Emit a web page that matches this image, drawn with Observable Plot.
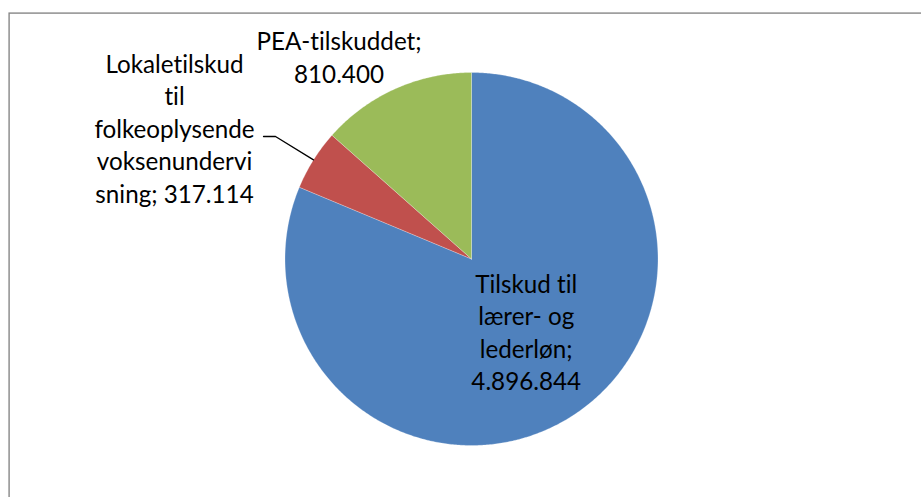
<!DOCTYPE html>
<html>
<head>
<meta charset="utf-8">
<script src="https://cdn.jsdelivr.net/npm/d3@7"></script>
<script src="https://cdn.jsdelivr.net/npm/@observablehq/plot@0.6"></script>
<style>
  html, body { margin: 0; padding: 0; background: #fff; overflow: hidden; }
  #chart svg { display: block; }
  #chart text { font-variant-ligatures: none; font-feature-settings: "liga" 0, "clig" 0; }
</style>
</head>
<body>
<div id="chart"></div>
<script>
// ---- data ----
const categories = [
  "Tilskud til lærer- og lederløn",
  "Lokaletilskud til folkeoplysende voksenundervisning",
  "PEA-tilskuddet"
];
const values = [4896844, 317114, 810400];
const valueLabels = ["4.896.844", "317.114", "810.400"];
const labelTexts = [
  "Tilskud til\nlærer- og\nlederløn;\n" + valueLabels[0],
  "Lokaletilskud\ntil\nfolkeoplysende\nvoksenundervi\nsning; " + valueLabels[1],
  "PEA-tilskuddet;\n" + valueLabels[2]
];

// ---- style / layout ----
const palette = ["#4F81BD", "#C0504D", "#9BBB59"];
const W = 921, H = 497;
const CX = 471, CY = 258.5, R = 186.5;          // pie centre and radius (px)
const labelLayout = [
  { r: 0.49, dx: 4, dy: -4 },                    // inside label
  { r: 1.0, dx: -139, dy: -32.4, leader: true },  // outside with leader
  { r: 1.0, dx: -56, dy: -33 }                    // outside
];
const LINE_PX = 32.5;
const FONT = "Lato, 'Open Sans', sans-serif";

// font size fitted to the reference's text width
let fontSize = 25;
try {
  const ctx = document.createElement("canvas").getContext("2d");
  ctx.font = "100px Lato";
  const w = ctx.measureText("folkeoplysende").width + ctx.measureText("PEA-tilskuddet;").width;
  if (w > 0) fontSize = Math.max(20, Math.min(28, 100 * 326 / w));
} catch (e) {}

// ---- pie geometry (units of radius, y up) ----
const arcs = d3.pie().sort(null).value(d => d)(values);
const polyPts = [];
arcs.forEach((a, i) => {
  const cat = categories[i];
  polyPts.push({ cat, x: 0, y: 0 });
  const n = Math.max(2, Math.ceil((a.endAngle - a.startAngle) / (Math.PI / 360)));
  for (let k = 0; k <= n; k++) {
    const t = a.startAngle + (a.endAngle - a.startAngle) * k / n;
    polyPts.push({ cat, x: Math.sin(t), y: Math.cos(t) });
  }
  polyPts.push({ cat, x: 0, y: 0 });
});

const labels = arcs.map((a, i) => {
  const m = (a.startAngle + a.endAngle) / 2;
  const L = labelLayout[i];
  return {
    cat: categories[i],
    text: labelTexts[i],
    rimX: Math.sin(m), rimY: Math.cos(m),
    x: L.r * Math.sin(m) + L.dx / R,
    y: L.r * Math.cos(m) - L.dy / R,
    leader: !!L.leader
  };
});

const leaderPts = [];
labels.filter(d => d.leader).forEach(d => {
  leaderPts.push({ cat: d.cat, x: d.rimX, y: d.rimY });
  leaderPts.push({ cat: d.cat, x: d.x + 101 / R, y: d.y - 9 / R });
  leaderPts.push({ cat: d.cat, x: d.x + 89 / R, y: d.y - 9 / R });
});

const chart = Plot.plot({
  width: W,
  height: H,
  margin: 0,
  style: { background: "white", fontFamily: FONT, overflow: "visible" },
  x: { domain: [-CX / R, (W - CX) / R], axis: null },
  y: { domain: [-(H - CY) / R, CY / R], axis: null },
  color: { domain: categories, range: palette },
  marks: [
    Plot.frame({ stroke: "#878787", strokeWidth: 1.4, insetLeft: 8.6, insetTop: 12.6, insetRight: -20, insetBottom: -20 }),
    Plot.line(polyPts, { x: "x", y: "y", z: "cat", fill: "cat", stroke: "white", strokeWidth: 0.5, strokeOpacity: 0.5, curve: "linear" }),
    Plot.line(leaderPts, { x: "x", y: "y", z: "cat", stroke: "black", strokeWidth: 1.3 }),
    Plot.text(labels, {
      x: "x", y: "y", text: "text",
      fontSize, lineHeight: LINE_PX / fontSize,
      fill: "black", textAnchor: "middle", lineAnchor: "middle",
      fontFamily: FONT
    })
  ]
});
document.getElementById("chart").appendChild(chart);
</script>
</body>
</html>
